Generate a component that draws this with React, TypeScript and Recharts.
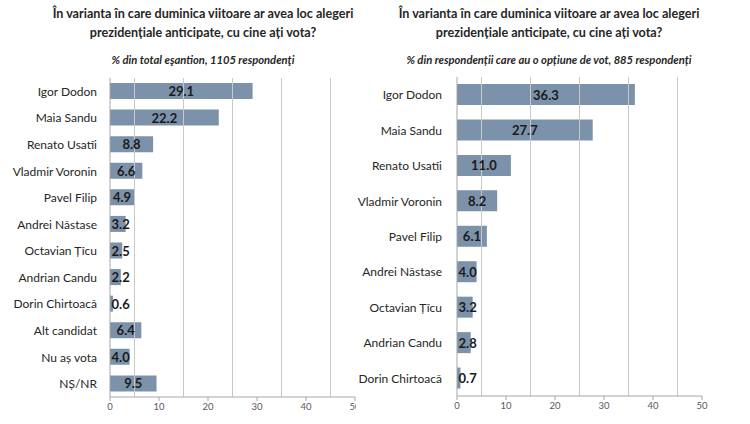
import React from 'react';
import {
  BarChart,
  Bar,
  XAxis,
  YAxis,
  ReferenceLine,
  LabelList,
} from 'recharts';

// left panel: whole sample
const leftCandidates = [
  'Igor Dodon', 'Maia Sandu', 'Renato Usatîi', 'Vladmir Voronin', 'Pavel Filip',
  'Andrei Năstase', 'Octavian Țîcu', 'Andrian Candu', 'Dorin Chirtoacă',
  'Alt candidat', 'Nu aș vota', 'NȘ/NR',
];
const leftValues = [29.1, 22.2, 8.8, 6.6, 4.9, 3.2, 2.5, 2.2, 0.6, 6.4, 4.0, 9.5];

// right panel: respondents with a vote option
const rightCandidates = [
  'Igor Dodon', 'Maia Sandu', 'Renato Usatîi', 'Vladmir Voronin', 'Pavel Filip',
  'Andrei Năstase', 'Octavian Țîcu', 'Andrian Candu', 'Dorin Chirtoacă',
];
const rightValues = [36.3, 27.7, 11.0, 8.2, 6.1, 4.0, 3.2, 2.8, 0.7];

const xTicks = [0, 10, 20, 30, 40, 50];
const gridValues = [5, 15, 25, 35, 45];

const titleLines = [
  'În varianta în care duminica viitoare ar avea loc alegeri',
  'prezidențiale anticipate, cu cine ați vota?',
];
const leftSubtitle = '% din total eşantion, 1105 respondenţi';
const rightSubtitle = '% din respondenții care au o opțiune de vot, 885 respondenți';

const FONT = 'Lato, "Open Sans", sans-serif';
const BAR_COLOR = '#7b92aa';
const GRID_COLOR = '#c9c9c9';
const AXIS_COLOR = '#a6a6a6';

// approx width of a bold 13px number label
const labelWidth = (s: string) => s.split('').reduce((w, c) => w + (c === '.' ? 3.2 : 7), 0);

const BarValueLabel = (props: any) => {
  const { x, y, width, height, value } = props;
  const text = Number(value).toFixed(1);
  const tw = labelWidth(text);
  const cx = Math.max(x + width / 2, x + tw / 2 + 2);
  return (
    <text
      x={cx}
      y={y + height / 2}
      textAnchor="middle"
      dominantBaseline="central"
      fontFamily={FONT}
      fontWeight={700}
      fontSize={13}
      fill="#1a1a1a"
    >
      {text}
    </text>
  );
};

// plain tick so long names are not wrapped
const CategoryTick = (props: any) => {
  const { x, y, payload } = props;
  return (
    <text
      x={x}
      y={y}
      textAnchor="end"
      dominantBaseline="central"
      fontFamily={FONT}
      fontSize={12}
      fill="#262626"
    >
      {payload.value}
    </text>
  );
};

interface PanelProps {
  categories: string[];
  values: number[];
  width: number;
  yAxisWidth: number;
  rightMargin: number;
  top: number;
  bottom: number;
  barSize: number;
  tickGap: number;
}

const Panel: React.FC<PanelProps> = ({
  categories, values, width, yAxisWidth, rightMargin, top, bottom, barSize, tickGap,
}) => {
  const data = categories.map((name, i) => ({ name, value: values[i] }));
  return (
    <BarChart
      width={width}
      height={424}
      data={data}
      layout="vertical"
      margin={{ top, right: rightMargin, left: 0, bottom }}
    >
      <XAxis
        type="number"
        domain={[0, 50]}
        ticks={xTicks}
        allowDataOverflow
        axisLine={{ stroke: AXIS_COLOR }}
        tickLine={{ stroke: AXIS_COLOR }}
        tickSize={4}
        tickMargin={2}
        height={20}
        tick={{ fontFamily: FONT, fontSize: 9.5, fill: '#595959' }}
      />
      <YAxis
        type="category"
        dataKey="name"
        width={yAxisWidth}
        axisLine={{ stroke: AXIS_COLOR }}
        tickLine={false}
        tickSize={0}
        tickMargin={tickGap}
        interval={0}
        tick={<CategoryTick />}
      />
      {gridValues.map((v) => (
        <ReferenceLine key={v} x={v} stroke={GRID_COLOR} strokeWidth={1} />
      ))}
      <Bar dataKey="value" fill={BAR_COLOR} barSize={barSize} isAnimationActive={false}>
        <LabelList dataKey="value" content={BarValueLabel} />
      </Bar>
    </BarChart>
  );
};

const Titles: React.FC<{ center: number; subtitle: string }> = ({ center, subtitle }) => (
  <div
    style={{
      position: 'absolute',
      left: center - 200,
      width: 400,
      top: 4,
      textAlign: 'center',
      fontFamily: FONT,
      color: '#262626',
    }}
  >
    {titleLines.map((line) => (
      <div key={line} style={{ fontWeight: 700, fontSize: 12.6, lineHeight: '19px' }}>
        {line}
      </div>
    ))}
    <div style={{ fontWeight: 700, fontStyle: 'italic', fontSize: 11.2, marginTop: 11 }}>{subtitle}</div>
  </div>
);

export default function App() {
  return (
    <div
      style={{
        position: 'absolute',
        left: 0,
        top: 0,
        width: 750,
        height: 424,
        background: '#fff',
        overflow: 'hidden',
      }}
    >
      <Titles center={203} subtitle={leftSubtitle} />
      <Titles center={549} subtitle={rightSubtitle} />
      <div style={{ position: 'absolute', left: 0, top: 0, width: 356, height: 424, overflow: 'hidden' }}>
        <Panel
          categories={leftCandidates}
          values={leftValues}
          width={375}
          yAxisWidth={110}
          rightMargin={20}
          top={78}
          bottom={7}
          barSize={16}
          tickGap={13}
        />
      </div>
      <div style={{ position: 'absolute', left: 356, top: 0 }}>
        <Panel
          categories={rightCandidates}
          values={rightValues}
          width={394}
          yAxisWidth={101}
          rightMargin={48}
          top={77}
          bottom={8}
          barSize={21}
          tickGap={15}
        />
      </div>
    </div>
  );
}
